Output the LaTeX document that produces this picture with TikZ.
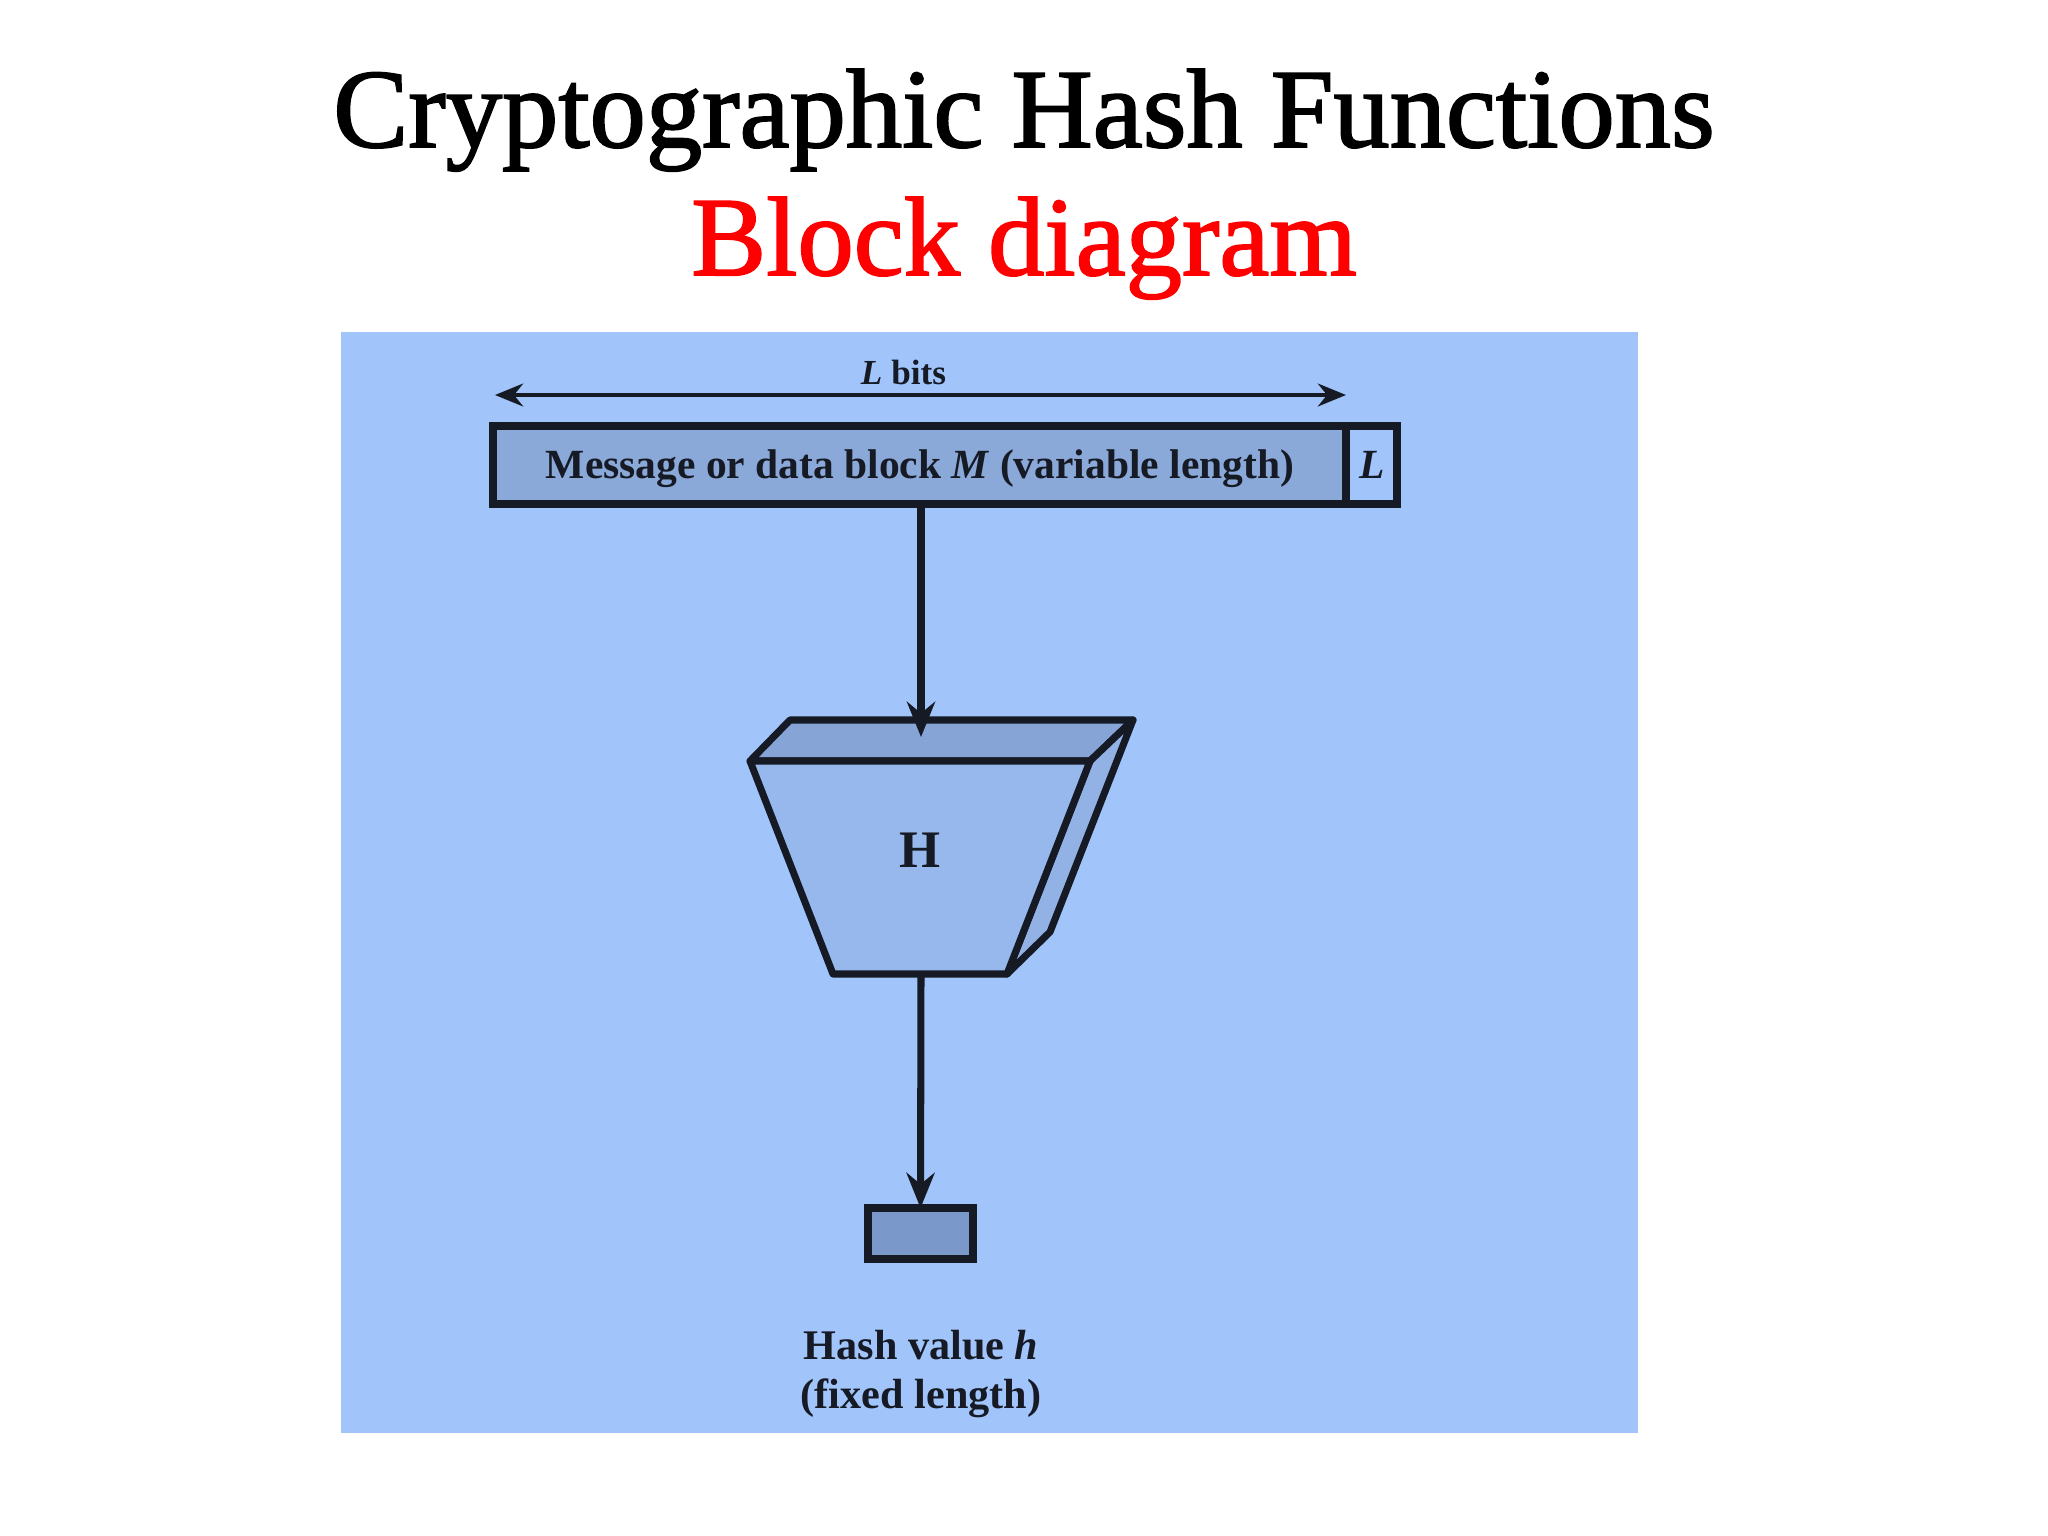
\documentclass[tikz,border=0pt]{standalone}
\usepackage{fontspec}
\setmainfont{Liberation Serif}
\newfontfamily\titlefont[FakeBold=1.6]{Liberation Serif}
\usetikzlibrary{arrows.meta,positioning}

\definecolor{panelblue}{RGB}{161,196,250}
\definecolor{msgblue}{RGB}{138,168,216}
\definecolor{frontblue}{RGB}{151,184,237}
\definecolor{topblue}{RGB}{134,164,214}
\definecolor{sideblue}{RGB}{146,178,230}
\definecolor{digestblue}{RGB}{122,153,202}
\definecolor{inkdark}{RGB}{22,26,36}

\begin{document}
\begin{tikzpicture}[x=0.01cm, y=-0.01cm,
  blk/.style={draw=inkdark, line width=2.2pt, inner sep=0pt, outer sep=0pt},
  face/.style={draw=inkdark, line width=2pt, line join=round},
  flow/.style={draw=inkdark, line width=2pt, -{Stealth[length=10pt,width=8pt]}},
  txt/.style={text=inkdark, font=\bfseries\fontsize{11.8}{13.7}\selectfont}]
  \useasboundingbox (0,0) rectangle (2048,1536);
  \fill[white] (0,0) rectangle (2048,1536);

  % Titles
  \node[anchor=base, font=\titlefont\fontsize{32}{36}\selectfont] (title) at (1024,147) {Cryptographic Hash Functions};
  \node[anchor=base, text=red, font=\titlefont\fontsize{32}{36}\selectfont] (subtitle) at (1024,275) {Block diagram};

  % Draw the panel
  \fill[panelblue] (341,332) rectangle (1638,1433);

  % Message block and its length field
  \node[blk, fill=msgblue, minimum width=8.53cm, minimum height=0.78cm] (msg) at (919.5,465) {};
  \node[txt] (msgtext) at (920,469) {Message or data block \textit{M} (variable length)};
  \node[blk, fill=panelblue, minimum width=0.51cm, minimum height=0.78cm, right=0pt of msg,
        txt, font=\bfseries\itshape\fontsize{11.8}{13.7}\selectfont] (len) {L};

  % L bits
  \coordinate (bitsL) at (495,395);
  \coordinate (bitsR) at (1346,395);
  \draw[inkdark, line width=1.1pt, {Stealth[length=8pt,width=6.5pt]}-{Stealth[length=8pt,width=6.5pt]}]
    (bitsL) -- node[pos=0.48, above=-1pt, txt, font=\bfseries\fontsize{10}{12}\selectfont] (bits) {\textit{L} bits} (bitsR);

  % Hash function H
  \filldraw[face, fill=topblue] (750,761) -- (790,720) -- (1133,720) -- (1090,761) -- cycle;
  \filldraw[face, fill=sideblue] (1090,761) -- (1133,720) -- (1050,932) -- (1007,974) -- cycle;
  \filldraw[face, fill=frontblue] (750,761) -- (1090,761) -- (1007,974) -- (833,974) -- cycle;
  \node[text=inkdark, font=\bfseries\fontsize{15}{18}\selectfont] (hash) at (920,850) {H};
  \coordinate (hin) at (921,737);
  \coordinate (hout) at (921,974);

  % Hash value
  \node[blk, fill=digestblue, minimum width=1.05cm, minimum height=0.51cm] (digest) at (920.5,1233.5) {};
  \node[txt, align=center, font=\bfseries\fontsize{12}{13.7}\selectfont] (hval) at (921,1374)
    {Hash value \textit{h}\\(fixed length)};

  \draw[flow] (msg.south -| hin) -- (hin);
  \draw[flow] (hout) -- (digest.north);
\end{tikzpicture}
\end{document}
